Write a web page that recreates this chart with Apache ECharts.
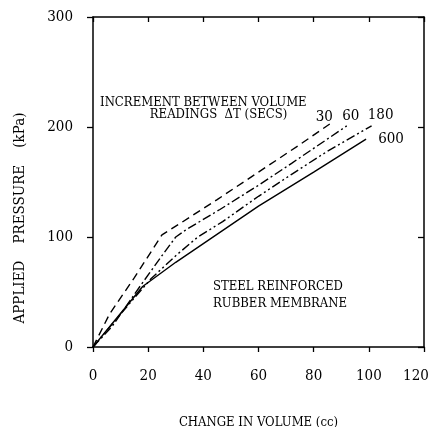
<!DOCTYPE html>
<html>
<head>
<meta charset="utf-8">
<script src="https://cdn.jsdelivr.net/npm/echarts@6/dist/echarts.min.js"></script>
<style>
  html, body { margin: 0; padding: 0; background: #fff; }
  #chart { width: 432px; height: 427px; }
</style>
</head>
<body>
<div id="chart"></div>
<script>
// change in volume (cc) vs applied pressure (kPa), one array per increment
var dt30  = [[0,0],[6,30],[15,63],[25,102],[32,113],[45,134],[60,159],[75,184],[86,203]];
var dt60  = [[0,0],[7,19],[17,55],[25,83],[30,100],[34,107],[46,125],[60,147],[72,167],[92,201]];
var dt180 = [[0,0],[10,30],[21,62],[30,83],[38,100],[47,114],[60,137],[72,157],[85,178],[101,201]];
var dt600 = [[0,0],[18,55],[30,77],[40,94],[60,128],[80,159],[99,189]];

var seriesNames = ['30', '60', '180', '600'];
var seriesData = [dt30, dt60, dt180, dt600];
var dashTypes = [[8, 5], [9, 3, 2, 3], [9, 3, 2, 3, 2, 3], 'solid'];
// label offsets from each curve's end point, in pixels
var labelOffsets = [[-6, -7], [4, -10], [9, -11], [25, 0]];

var FONT = '"DejaVu Serif Condensed", "Liberation Serif", serif';
var chart = echarts.init(document.getElementById('chart'));

var series = [];
for (var i = 0; i < seriesData.length; i++) {
    series.push({
        name: seriesNames[i],
        type: 'line',
        data: seriesData[i],
        showSymbol: false,
        silent: true,
        lineStyle: { color: '#000', width: 1.4, type: dashTypes[i] }
    });
}

var option = {
    animation: false,
    backgroundColor: '#fff',
    grid: { left: 93, right: 8, top: 17, bottom: 80, outerBoundsMode: 'none' },
    xAxis: [{
        type: 'value', min: 0, max: 120, interval: 20,
        name: 'CHANGE IN VOLUME (cc)', nameLocation: 'middle', nameGap: 69,
        nameTextStyle: { fontFamily: FONT, fontSize: 13, color: '#000' },
        axisLine: { onZero: false, lineStyle: { color: '#000', width: 1.5 } },
        axisTick: { inside: false, length: 5, lineStyle: { color: '#000', width: 1.3 } },
        axisLabel: {
            fontFamily: FONT, fontSize: 15, color: '#000', margin: 22,
            // last label sits a little inside the right edge, as in the original
            formatter: function (v) { return v === 120 ? '{m|' + v + '}' : String(v); },
            rich: { m: { fontFamily: FONT, fontSize: 15, color: '#000', padding: [0, 16, 0, 0] } }
        },
        splitLine: { show: false }
    }, {
        type: 'value', position: 'top', min: 0, max: 120, interval: 20,
        axisLine: { onZero: false, lineStyle: { color: '#000', width: 1.5 } },
        axisTick: { inside: true, length: 5, lineStyle: { color: '#000', width: 1.3 } },
        axisLabel: { show: false },
        splitLine: { show: false }
    }],
    yAxis: [{
        type: 'value', min: 0, max: 300, interval: 100,
        axisLine: { onZero: false, lineStyle: { color: '#000', width: 1.5 } },
        axisTick: { inside: false, length: 6, lineStyle: { color: '#000', width: 1.3 } },
        axisLabel: { fontFamily: FONT, fontSize: 15, color: '#000', margin: 20 },
        splitLine: { show: false }
    }, {
        type: 'value', position: 'right', min: 0, max: 300, interval: 100,
        axisLine: { show: true, onZero: false, lineStyle: { color: '#000', width: 1.5 } },
        axisTick: { show: true, inside: true, length: 6, lineStyle: { color: '#000', width: 1.3 } },
        axisLabel: { show: false },
        splitLine: { show: false }
    }],
    series: series
};
chart.setOption(option);

// text annotations, anchored in data coordinates
var gfx = [];
for (var k = 0; k < seriesData.length; k++) {
    var d = seriesData[k];
    var p = chart.convertToPixel({ gridIndex: 0 }, d[d.length - 1]);
    gfx.push({
        type: 'text', x: p[0] + labelOffsets[k][0], y: p[1] + labelOffsets[k][1],
        style: { text: seriesNames[k], font: '15px ' + FONT, fill: '#000', align: 'center', verticalAlign: 'middle' }
    });
}
var note1 = chart.convertToPixel({ gridIndex: 0 }, [40, 222]);
gfx.push({
    type: 'text', x: note1[0], y: note1[1],
    style: { text: 'INCREMENT BETWEEN VOLUME', font: '13px ' + FONT, fill: '#000', align: 'center', verticalAlign: 'middle' }
});
var note2 = chart.convertToPixel({ gridIndex: 0 }, [45.5, 211]);
gfx.push({
    type: 'text', x: note2[0], y: note2[1],
    style: { text: 'READINGS  \u0394T (SECS)', font: '13px ' + FONT, fill: '#000', align: 'center', verticalAlign: 'middle' }
});
var note3 = chart.convertToPixel({ gridIndex: 0 }, [43.5, 47]);
gfx.push({
    type: 'text', x: note3[0], y: note3[1],
    style: { text: 'STEEL REINFORCED\nRUBBER MEMBRANE', font: '13px ' + FONT, fill: '#000', align: 'left', verticalAlign: 'middle', lineHeight: 17 }
});
gfx.push({
    type: 'text', x: 20, y: 218, rotation: Math.PI / 2,
    style: { text: 'APPLIED    PRESSURE    (kPa)', font: '15px ' + FONT, fill: '#000', align: 'center', verticalAlign: 'middle' }
});
chart.setOption({ graphic: gfx });
</script>
</body>
</html>
